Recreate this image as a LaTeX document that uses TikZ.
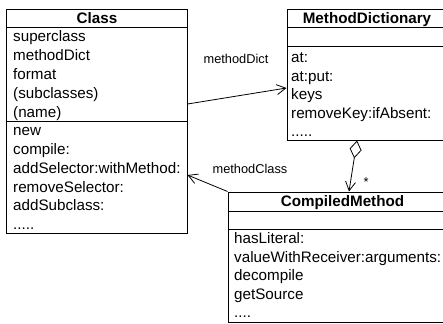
\documentclass[tikz,border=0pt]{standalone}
\usepackage{fontspec}
\setmainfont{Liberation Sans}
\usetikzlibrary{arrows.meta}
\begin{document}
\begin{tikzpicture}[x=1bp,y=-1bp,
  box/.style={draw,line width=1bp,rectangle,inner sep=0pt},
  row/.style={anchor=base west,inner sep=0pt,font=\fontsize{15.2bp}{18bp}\selectfont},
  title/.style={anchor=base,inner sep=0pt,font=\fontsize{15.2bp}{18bp}\selectfont\bfseries},
  lbl/.style={inner sep=0pt,font=\fontsize{12.8bp}{15bp}\selectfont},
  divider/.style={line width=1bp},
  assoc/.style={line width=0.8bp,-{Straight Barb[length=9bp,width=10bp,line width=0.8bp]}},
  aggr/.style={line width=0.8bp,{Diamond[open,length=18bp,width=12bp,line width=0.8bp]}-{Straight Barb[length=9bp,width=10bp,line width=0.8bp]}}
]
\useasboundingbox (0,0) rectangle (443,323);
\clip (0,0) rectangle (443,323);

% Class
\node[box,minimum width=180bp,minimum height=224bp] (class) at (97,121) {};
\draw[divider] (class.west |- 0,27) -- (class.east |- 0,27);
\draw[divider] (class.west |- 0,121) -- (class.east |- 0,121);
\node[title] (classT) at (97,23.5) {Class};
\node[row] (ca1) at (13,41.5) {superclass};
\node[row] (ca2) at (13,60.5) {methodDict};
\node[row] (ca3) at (13,79.5) {format};
\node[row] (ca4) at (13,98.5) {(subclasses)};
\node[row] (ca5) at (13,117) {(name)};
\node[row] (cm1) at (13,135.5) {new};
\node[row] (cm2) at (13,154.5) {compile:};
\node[row] (cm3) at (13,173) {addSelector:withMethod:};
\node[row] (cm4) at (13,192) {removeSelector:};
\node[row] (cm5) at (13,210.5) {addSubclass:};
\node[row] (cm6) at (13,229) {.....};

% MethodDictionary
\node[box,minimum width=160bp,minimum height=131bp] (md) at (367,74.5) {};
\draw[divider] (md.west |- 0,27) -- (md.east |- 0,27);
\draw[divider] (md.west |- 0,46) -- (md.east |- 0,46);
\node[title] (mdT) at (367,23.5) {MethodDictionary};
\node[row] (mm1) at (291,62.5) {at:};
\node[row] (mm2) at (291,81) {at:put:};
\node[row] (mm3) at (291,99.5) {keys};
\node[row] (mm4) at (291,118) {removeKey:ifAbsent:};
\node[row] (mm5) at (291,136) {.....};

% CompiledMethod
\node[box,minimum width=229bp,minimum height=130bp] (cm) at (342.5,257) {};
\draw[divider] (cm.west |- 0,211) -- (cm.east |- 0,211);
\draw[divider] (cm.west |- 0,229) -- (cm.east |- 0,229);
\node[title] (cmT) at (342.5,206.5) {CompiledMethod};
\node[row] (km1) at (234,243.5) {hasLiteral:};
\node[row] (km2) at (234,262) {valueWithReceiver:arguments:};
\node[row] (km3) at (234,280.5) {decompile};
\node[row] (km4) at (234,299) {getSource};
\node[row] (km5) at (234,317) {....};

% connectors
\draw[assoc] (class.east |- 0,104) -- (md.west |- 0,88);
\node[lbl] (l1) at (236,59) {methodDict};
\draw[assoc] (cm.north west) -- (class.east |- 0,175);
\node[lbl] (l2) at (250,169) {methodClass};
\draw[aggr] (md.south -| 357,0) -- (cm.north -| 349,0);
\node[lbl] (l3) at (366,182) {*};
\end{tikzpicture}
\end{document}
